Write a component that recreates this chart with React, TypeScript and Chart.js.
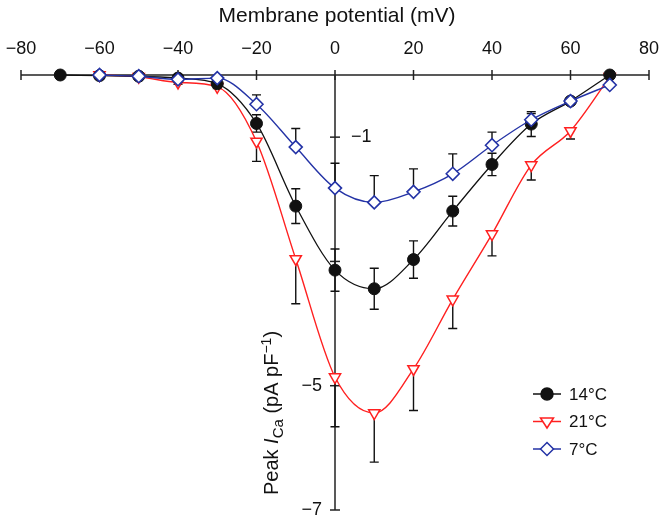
import { useEffect, useRef } from "react";
import { Chart, registerables } from "chart.js";

Chart.register(...registerables);

// ---- data ----
const voltages = [-70, -60, -50, -40, -30, -20, -10, 0, 10, 20, 30, 40, 50, 60, 70];

const i14 = [0, -0.01, -0.02, -0.05, -0.14, -0.78, -2.11, -3.14, -3.44, -2.97, -2.19, -1.44, -0.79, -0.42, 0];
const e14 = [0, 0, 0, 0.03, 0.05, 0.14, 0.28, 0.34, 0.33, 0.3, 0.24, 0.18, 0.2, 0.05, 0];

const i21 = [null, 0, -0.03, -0.12, -0.19, -1.07, -2.96, -4.86, -5.44, -4.73, -3.61, -2.56, -1.45, -0.9, -0.03];
const e21 = [0, 0, 0, 0.03, 0.03, 0.32, 0.72, 0.8, 0.79, 0.67, 0.47, 0.35, 0.24, 0.13, 0];

const i7 = [null, 0, -0.02, -0.07, -0.05, -0.47, -1.16, -1.82, -2.05, -1.88, -1.59, -1.13, -0.72, -0.42, -0.16];
const e7 = [0, 0, 0, 0, 0, 0.15, 0.3, 0.4, 0.43, 0.37, 0.32, 0.21, 0.1, 0, 0];

const seriesLabels = ["14°C", "21°C", "7°C"];
const xTickValues = [-80, -60, -40, -20, 0, 20, 40, 60, 80];
const yTickValues = [-1, -3, -5, -7];
const yLabelValues = [-1, -5, -7];
const yLabelsOnRight = [-1];

const FONT = "'Liberation Sans', Arial, Helvetica, sans-serif";
const BLACK = "#111111";
const RED = "#ff2020";
const BLUE = "#2433a6";

const fmt = (v: number) => (v < 0 ? "\u2212" + Math.abs(v) : String(v));

const toPoints = (vals: (number | null)[]) =>
  voltages
    .map((v, i) => ({ x: v, y: vals[i] }))
    .filter((p) => p.y !== null) as { x: number; y: number }[];

const errSeries = [
  { vals: i14, errs: e14, dir: "both" },
  { vals: i21, errs: e21, dir: "down" },
  { vals: i7, errs: e7, dir: "up" },
];

function drawMarker(ctx: CanvasRenderingContext2D, kind: string, cx: number, cy: number, color: string) {
  ctx.save();
  ctx.lineWidth = 1.5;
  ctx.strokeStyle = color;
  ctx.fillStyle = kind === "circle" ? color : "#ffffff";
  ctx.beginPath();
  if (kind === "circle") {
    ctx.arc(cx, cy, 6, 0, Math.PI * 2);
  } else if (kind === "tri") {
    const r = 6.5;
    ctx.moveTo(cx - r, cy - r * 0.55);
    ctx.lineTo(cx + r, cy - r * 0.55);
    ctx.lineTo(cx, cy + r);
    ctx.closePath();
  } else {
    const r = 6.5;
    ctx.moveTo(cx, cy - r);
    ctx.lineTo(cx + r, cy);
    ctx.lineTo(cx, cy + r);
    ctx.lineTo(cx - r, cy);
    ctx.closePath();
  }
  ctx.fill();
  ctx.stroke();
  ctx.restore();
}

const crossAxesPlugin = {
  id: "crossAxes",
  beforeDatasetsDraw(chart: any) {
    const { ctx } = chart;
    const x = chart.scales.x;
    const y = chart.scales.y;
    const y0 = y.getPixelForValue(0);
    const x0 = x.getPixelForValue(0);
    ctx.save();
    ctx.strokeStyle = "#222";
    ctx.lineWidth = 1.5;
    // x axis
    ctx.beginPath();
    ctx.moveTo(x.getPixelForValue(xTickValues[0]), y0);
    ctx.lineTo(x.getPixelForValue(xTickValues[xTickValues.length - 1]), y0);
    ctx.stroke();
    xTickValues.forEach((t) => {
      const px = x.getPixelForValue(t);
      ctx.beginPath();
      ctx.moveTo(px, y0 - 5);
      ctx.lineTo(px, y0 + 5);
      ctx.stroke();
    });
    // y axis
    ctx.beginPath();
    ctx.moveTo(x0, y0);
    ctx.lineTo(x0, y.getPixelForValue(yTickValues[yTickValues.length - 1]));
    ctx.stroke();
    yTickValues.forEach((t) => {
      const py = y.getPixelForValue(t);
      ctx.beginPath();
      ctx.moveTo(x0 - 5, py);
      ctx.lineTo(x0 + 5, py);
      ctx.stroke();
    });
    // labels
    ctx.fillStyle = BLACK;
    ctx.font = `18px ${FONT}`;
    ctx.textBaseline = "middle";
    ctx.textAlign = "center";
    xTickValues.forEach((t) => {
      ctx.fillText(fmt(t), x.getPixelForValue(t), y0 - 26);
    });
    yLabelValues.forEach((t) => {
      const py = y.getPixelForValue(t);
      if (yLabelsOnRight.includes(t)) {
        ctx.textAlign = "left";
        ctx.fillText(fmt(t), x0 + 16, py);
      } else {
        ctx.textAlign = "right";
        ctx.fillText(fmt(t), x0 - 13, py);
      }
    });
    // error bars
    ctx.strokeStyle = BLACK;
    ctx.lineWidth = 1.4;
    const cap = 4.5;
    errSeries.forEach((s) => {
      voltages.forEach((v, i) => {
        const val = s.vals[i];
        const e = s.errs[i];
        if (val === null || !e) return;
        const lo = s.dir === "up" ? val : val - e;
        const hi = s.dir === "down" ? val : val + e;
        const px = x.getPixelForValue(v);
        const pLo = y.getPixelForValue(lo);
        const pHi = y.getPixelForValue(hi);
        ctx.beginPath();
        ctx.moveTo(px, pLo);
        ctx.lineTo(px, pHi);
        if (s.dir !== "up") {
          ctx.moveTo(px - cap, pLo);
          ctx.lineTo(px + cap, pLo);
        }
        if (s.dir !== "down") {
          ctx.moveTo(px - cap, pHi);
          ctx.lineTo(px + cap, pHi);
        }
        ctx.stroke();
      });
    });
    ctx.restore();
  },
  afterDraw(chart: any) {
    const { ctx } = chart;
    const x = chart.scales.x;
    const x0 = x.getPixelForValue(0);
    ctx.save();
    ctx.fillStyle = BLACK;
    // x title
    ctx.font = `21px ${FONT}`;
    ctx.textAlign = "center";
    ctx.textBaseline = "middle";
    ctx.fillText("Membrane potential (mV)", x0 + 2, 16);

    // y title (rotated, mixed fonts)
    const segs = [
      { t: "Peak ", f: `20px ${FONT}`, dy: 0 },
      { t: "I", f: `italic 20px ${FONT}`, dy: 0 },
      { t: "Ca", f: `15px ${FONT}`, dy: 5 },
      { t: " (pA pF", f: `20px ${FONT}`, dy: 0 },
      { t: "\u22121", f: `14px ${FONT}`, dy: -7 },
      { t: ")", f: `20px ${FONT}`, dy: 0 },
    ];
    let total = 0;
    segs.forEach((s) => {
      ctx.font = s.f;
      total += ctx.measureText(s.t).width;
    });
    ctx.translate(271, 413);
    ctx.rotate(-Math.PI / 2);
    ctx.textAlign = "left";
    ctx.textBaseline = "alphabetic";
    let cx = -total / 2;
    segs.forEach((s) => {
      ctx.font = s.f;
      ctx.fillText(s.t, cx, 7 + s.dy);
      cx += ctx.measureText(s.t).width;
    });
    ctx.restore();

    // legend
    const rows = [
      { label: seriesLabels[0], color: BLACK, kind: "circle" },
      { label: seriesLabels[1], color: RED, kind: "tri" },
      { label: seriesLabels[2], color: BLUE, kind: "diamond" },
    ];
    ctx.save();
    rows.forEach((r, i) => {
      const yy = 394 + i * 27.5;
      ctx.strokeStyle = r.color;
      ctx.lineWidth = 1.5;
      ctx.beginPath();
      ctx.moveTo(533, yy);
      ctx.lineTo(561, yy);
      ctx.stroke();
      drawMarker(ctx, r.kind, 547, yy, r.color);
      ctx.fillStyle = BLACK;
      ctx.font = `17px ${FONT}`;
      ctx.textAlign = "left";
      ctx.textBaseline = "middle";
      ctx.fillText(r.label, 569, yy + 1);
    });
    ctx.restore();
  },
};

export default function App() {
  const ref = useRef<HTMLCanvasElement | null>(null);
  useEffect(() => {
    if (!ref.current) return;
    const chart = new Chart(ref.current, {
      type: "line",
      data: {
        datasets: [
          {
            label: seriesLabels[2],
            data: toPoints(i7),
            borderColor: BLUE,
            backgroundColor: "#ffffff",
            pointBackgroundColor: "#ffffff",
            pointBorderColor: BLUE,
            pointStyle: "rectRot",
            pointRadius: 6.5,
            pointBorderWidth: 1.6,
            borderWidth: 1.4,
            cubicInterpolationMode: "monotone",
            clip: false,
            order: 0,
          },
          {
            label: seriesLabels[0],
            data: toPoints(i14),
            borderColor: BLACK,
            backgroundColor: BLACK,
            pointBackgroundColor: BLACK,
            pointBorderColor: BLACK,
            pointStyle: "circle",
            pointRadius: 6,
            pointBorderWidth: 1,
            borderWidth: 1.3,
            cubicInterpolationMode: "monotone",
            clip: false,
            order: 1,
          },
          {
            label: seriesLabels[1],
            data: toPoints(i21),
            borderColor: RED,
            backgroundColor: "#ffffff",
            pointBackgroundColor: "#ffffff",
            pointBorderColor: RED,
            pointStyle: "triangle",
            rotation: 180,
            pointRadius: 6.5,
            pointBorderWidth: 1.5,
            borderWidth: 1.4,
            cubicInterpolationMode: "monotone",
            clip: false,
            order: 2,
          },
        ] as any,
      },
      options: {
        animation: false,
        responsive: false,
        devicePixelRatio: 1,
        layout: { padding: { left: 21, right: 12, top: 75, bottom: 14 } },
        scales: {
          x: { type: "linear", min: -80, max: 80, display: false },
          y: { type: "linear", min: -7, max: 0, display: false },
        },
        plugins: {
          legend: { display: false },
          tooltip: { enabled: false },
          title: { display: false },
        },
      },
      plugins: [crossAxesPlugin],
    });
    return () => chart.destroy();
  }, []);

  return (
    <div style={{ position: "fixed", left: 0, top: 0, width: 661, height: 524, background: "#fff" }}>
      <canvas ref={ref} width={661} height={524} style={{ width: 661, height: 524, display: "block" }} />
    </div>
  );
}
